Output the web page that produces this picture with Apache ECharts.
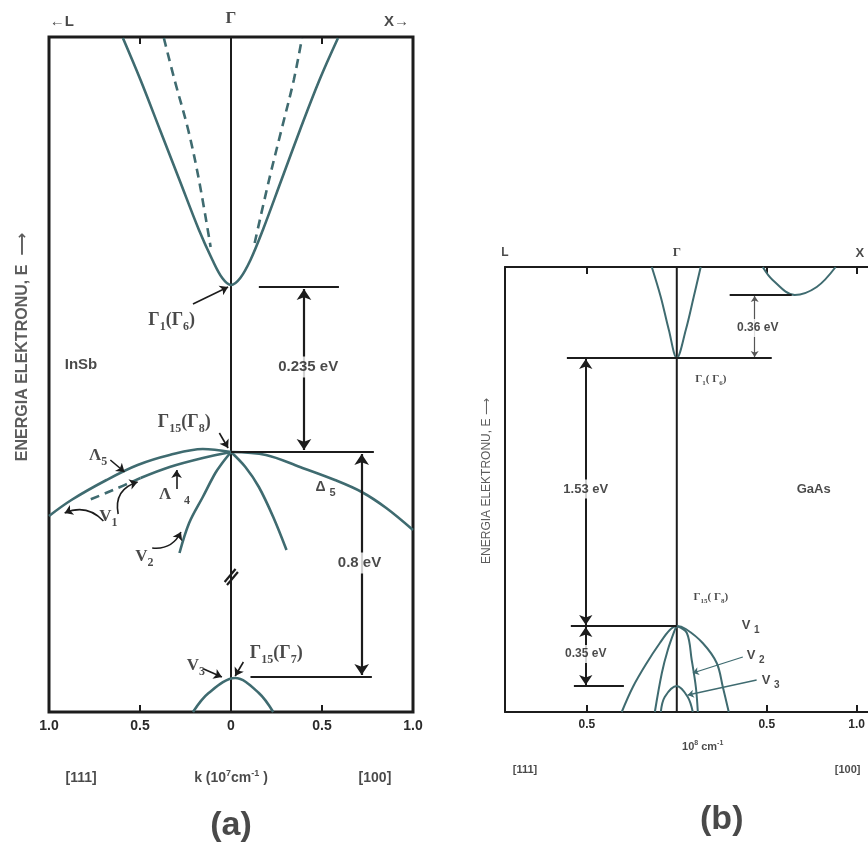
<!DOCTYPE html>
<html><head><meta charset="utf-8">
<script src="https://cdn.jsdelivr.net/npm/echarts@6/dist/echarts.min.js"></script>
<style>html,body{margin:0;padding:0;background:#fff}#c{width:868px;height:843px}</style>
</head><body><div id="c"></div><script>
// ---------- DATA (k in axis units, E in arbitrary drawing units) ----------
// Panel (a) InSb
const kTickLabelsA = [-1, -0.5, 0, 0.5, 1];
const kTicksA = [-0.5, 0.5];
const inSbCond = [[-0.594,134.8],[-0.497,126.4],[-0.390,116.4],[-0.283,106.4],[-0.176,96.4],[-0.102,90.4],[-0.048,86.8],[0,85.4],[0.051,86.8],[0.107,90.4],[0.175,96.4],[0.277,106.4],[0.379,116.4],[0.486,126.4],[0.588,134.8]];
const inSbCondDashL = [[-0.369,134.8],[-0.310,126.4],[-0.235,116.4],[-0.176,106.4],[-0.112,93.0]];
const inSbCondDashR = [[0.130,93.8],[0.209,106.4],[0.277,116.4],[0.345,126.4],[0.390,134.8]];
const inSbLambda5 = [[-1.0,39.2],[-0.877,42.4],[-0.684,46.4],[-0.513,49.4],[-0.337,51.4],[-0.155,52.6],[0,52]];
const inSbLambda4 = [[0,52],[-0.155,50.8],[-0.337,49],[-0.497,46.8]];
const inSbV1Dash = [[-0.497,46.8],[-0.647,44.4],[-0.78,42.4]];
const inSbV2L = [[-0.283,31.8],[-0.23,37.8],[-0.155,43],[-0.086,47.8],[-0.048,49.8],[0,52]];
const inSbV2R = [[0,52],[0.079,49],[0.153,45],[0.232,39],[0.305,32.4]];
const inSbDelta5 = [[0,52],[0.192,51.4],[0.379,49],[0.571,46.4],[0.718,44],[0.853,40.8],[1.0,36.4]];
const inSbV3 = [[-0.209,0],[-0.123,3.8],[0.023,6.8],[0.153,3.8],[0.232,0]];
// Panel (b) GaAs
const kTickLabelsB = [-0.5, 0.5, 1.0];
const kTicksB = [-0.5, 0.5, 1.0];
const gaAsCondGamma = [[-0.139,89],[-0.089,83],[-0.044,76.4],[0,70.8],[0.05,76.4],[0.094,83],[0.133,89]];
const gaAsCondSide = [[0.478,89],[0.533,86.4],[0.656,83.4],[0.778,85],[0.883,89]];
const gaAsV1 = [[-0.306,0],[-0.244,5],[-0.167,9.8],[-0.094,13.8],[-0.039,16.4],[0,17.2],[0.05,16.6],[0.144,13.8],[0.222,9.8],[0.256,5],[0.289,0]];
const gaAsV2L = [[-0.122,0],[-0.083,7.8],[-0.05,12.4],[-0.011,16.4],[0,17.2]];
const gaAsV2R = [[0,17.2],[0.056,15.8],[0.083,10.4],[0.106,5],[0.117,0]];
const gaAsV3 = [[-0.089,0],[-0.067,3],[0,5.2],[0.061,3],[0.089,0]];

// ---------- STYLE ----------
const CURVE = '#3f6b70', INK = '#1c1c1c';
const SANS = "'Liberation Sans', Arial, 'DejaVu Sans', sans-serif";
const SERIF = "'Liberation Serif', 'Times New Roman', 'DejaVu Serif', serif";

function xAxes(gridIndex, min, max, labels, ticks, fs, lineW) {
  const tick = {show:true, inside:true, length:7, customValues:ticks, lineStyle:{color:INK, width:2}};
  const line = lineW ? {show:true, onZero:false, lineStyle:{color:INK, width:lineW}} : {show:false};
  return [
    {type:'value', gridIndex, min, max, position:'bottom', axisLine:line, splitLine:{show:false},
     axisTick:tick,
     axisLabel:{show:true, customValues:labels, formatter:v => v === 0 ? '0' : Math.abs(v).toFixed(1),
       fontFamily:SANS, fontWeight:'bold', fontSize:fs, color:'#2a2a2a', margin:7}},
    {type:'value', gridIndex, min, max, position:'top', axisLine:line, splitLine:{show:false},
     axisTick:tick, axisLabel:{show:false}}
  ];
}
function curve(data, xi, yi, w, dashed) {
  return {type:'line', xAxisIndex:xi, yAxisIndex:yi, data, smooth:0.35, symbol:'none', silent:true, z:3,
    lineStyle:{color:CURVE, width:w, type: dashed ? [9,6] : 'solid'}};
}
function vline(xi, yi, top, w) {
  return {type:'line', xAxisIndex:xi, yAxisIndex:yi, data:[[0,0],[0,top]], symbol:'none', silent:true, z:2,
    lineStyle:{color:INK, width:w}};
}
function segs(items, xi, yi, sym, color, width, size) {
  return {type:'lines', coordinateSystem:'cartesian2d', xAxisIndex:xi, yAxisIndex:yi, silent:true, z:4,
    symbol:sym, symbolSize:size,
    lineStyle:{color, width, opacity:1},
    data: items.map(c => ({coords:[c[0], c[1]], lineStyle:{curveness: c[2] || 0}}))};
}
function texts(items, xi, yi) {
  return {type:'scatter', xAxisIndex:xi, yAxisIndex:yi, symbolSize:0, clip:false, silent:true, z:6,
    data: items.map(it => ({value:[it[0], it[1]],
      label: Object.assign({show:true, position:'inside', formatter: it[2], align:'center', verticalAlign:'middle'}, it[3])}))};
}
const box = {backgroundColor:'#fff', padding:[3,2]};
function sans(fs, extra) { return Object.assign({fontFamily:SANS, fontWeight:'bold', fontSize:fs, color:INK,
  rich:{s:{fontFamily:SANS, fontWeight:'bold', fontSize:Math.round(fs*0.75), color:INK, padding:[Math.round(fs*0.8),0,0,0]},
        sup:{fontFamily:SANS, fontWeight:'bold', fontSize:Math.round(fs*0.65), color:INK, padding:[0,0,Math.round(fs*0.6),0]}}}, extra || {}); }
function serif(fs, extra) { return Object.assign({fontFamily:SERIF, fontWeight:'bold', fontSize:fs, color:INK,
  rich:{s:{fontFamily:SERIF, fontWeight:'bold', fontSize:Math.round(fs*0.68), color:INK, padding:[Math.round(fs*0.7),0,0,0]}}}, extra || {}); }

// ---------- ANNOTATIONS ----------
const textsA = [
  [-0.326,78.4,'Γ{s|1}(Γ{s|6})', serif(18)],
  [-0.824,69.4,'InSb', sans(15)],
  [0.424,69,'0.235 eV', sans(15, box)],
  [-0.257,58,'Γ{s|15}(Γ{s|8})', serif(18)],
  [-0.73,51.2,'Λ{s|5}', serif(17)],
  [-0.31,43.4,'Λ   {s|4}', serif(17)],
  [-0.674,39,'V{s|1}', serif(17)],
  [-0.476,31,'V{s|2}', serif(17)],
  [0.52,45,'Δ {s|5}', sans(14)],
  [0.706,29.8,'0.8 eV', sans(15, box)],
  [0.249,11.8,'Γ{s|15}(Γ{s|7})', serif(18)],
  [-0.193,9.2,'V{s|3}', serif(17)],
  [-0.93,138,'←L', sans(15)],
  [0,138.6,'Γ', serif(17)],
  [0.91,138,'X→', sans(15)],
  [-0.824,-13.2,'[111]', sans(14)],
  [0,-13.2,'k (10{sup|7}cm{sup|-1} )', sans(14)],
  [0.791,-13.2,'[100]', sans(14)],
  [0,-22.8,'(a)', sans(34)],
  [-1.144,73,'ENERGIA ELEKTRONU, E  ⟶', sans(16, {rotate:90, color:'#333'})]
];
const textsB = [
  [0.189,66.6,'Γ{s|1}( Γ{s|6})', serif(11)],
  [0.45,76.8,'0.36 eV', sans(12, box)],
  [-0.506,44.6,'1.53 eV', sans(13, box)],
  [0.761,44.6,'GaAs', sans(13)],
  [0.189,23,'Γ{s|15}( Γ{s|8})', serif(11)],
  [0.411,17.4,'V {s|1}', sans(13)],
  [0.439,11.4,'V {s|2}', sans(13)],
  [0.522,6.4,'V {s|3}', sans(13)],
  [-0.506,11.6,'0.35 eV', sans(12, box)],
  [-0.956,91.8,'L', sans(12)],
  [0,91.8,'Γ', serif(13)],
  [1.017,91.8,'X', sans(13)],
  [0.144,-7,'10{sup|8} cm{sup|-1}', sans(11)],
  [-0.844,-11.6,'[111]', sans(11)],
  [0.95,-11.6,'[100]', sans(11)],
  [0.25,-21.6,'(b)', sans(34)],
  [-1.056,46.2,'ENERGIA ELEKTRONU, E ⟶', sans(12, {rotate:90, fontWeight:'normal', color:'#333'})]
];
// segments: [from, to, curveness]
const plainA = [[[0.153,85],[0.593,85]], [[0,52],[0.785,52]], [[0.107,7],[0.774,7]],
  [[-0.035,26],[0.025,28.6]], [[-0.022,25.4],[0.038,28]]];
const endArrowA = [[[-0.209,81.6],[-0.016,85]], [[-0.064,55.8],[-0.016,52.8]], [[-0.663,50.4],[-0.585,48]],
  [[-0.299,44.6],[-0.299,48.4]], [[-0.701,38.2],[-0.914,39.8],-0.35], [[-0.62,39.6],[-0.513,46],0.45],
  [[-0.433,32.8],[-0.275,36],-0.35], [[0.068,10],[0.023,7.2]], [[-0.15,8.6],[-0.05,7]]];
const bothArrowA = [[[0.401,84.6],[0.401,52.4]], [[0.718,51.6],[0.718,7.4]]];
const plainB = [[[0.294,83.4],[0.639,83.4]], [[-0.611,70.8],[0.528,70.8]], [[-0.589,17.2],[0,17.2]], [[-0.572,5.2],[-0.294,5.2]]];
const bothArrowB = [[[-0.506,70.6],[-0.506,17.4]], [[-0.506,17],[-0.506,5.4]]];
const bothArrowSmallB = [[[0.433,83.2],[0.433,71]]];
const pointerB = [[[0.367,11],[0.089,7.8]], [[0.444,6.4],[0.061,3.4]]];

const option = {
  animation:false,
  backgroundColor:'#fff',
  grid:[
    {left:49, top:37, width:364, height:675, show:true, borderColor:INK, borderWidth:3, backgroundColor:'transparent'},
    {left:505, top:267, right:0, height:445, show:false}
  ],
  xAxis:[].concat(xAxes(0,-1,1,kTickLabelsA,kTicksA,14,0), xAxes(1,-0.955,1.062,kTickLabelsB,kTicksB,12,2)),
  yAxis:[
    {type:'value', gridIndex:0, min:0, max:135, show:false},
    {type:'value', gridIndex:1, min:0, max:89, show:true, position:'left',
     axisLine:{show:true, onZero:false, lineStyle:{color:INK, width:2}},
     axisTick:{show:false}, axisLabel:{show:false}, splitLine:{show:false}}
  ],
  series:[
    vline(0,0,135,2), vline(2,1,89,2),
    curve(inSbCond,0,0,2.6), curve(inSbCondDashL,0,0,2.6,true), curve(inSbCondDashR,0,0,2.6,true),
    curve(inSbLambda5,0,0,2.6), curve(inSbLambda4,0,0,2.6), curve(inSbV1Dash,0,0,2.6,true),
    curve(inSbV2L,0,0,2.6), curve(inSbV2R,0,0,2.6), curve(inSbDelta5,0,0,2.6), curve(inSbV3,0,0,2.6),
    curve(gaAsCondGamma,2,1,2), curve(gaAsCondSide,2,1,2), curve(gaAsV1,2,1,2),
    curve(gaAsV2L,2,1,2), curve(gaAsV2R,2,1,2), curve(gaAsV3,2,1,2),
    segs(plainA,0,0,['none','none'],INK,2.2,0),
    segs(endArrowA,0,0,['none','arrow'],INK,1.6,8),
    segs(bothArrowA,0,0,['arrow','arrow'],INK,2.2,11),
    segs(plainB,2,1,['none','none'],INK,2,0),
    segs(bothArrowB,2,1,['arrow','arrow'],INK,2,10),
    segs(bothArrowSmallB,2,1,['arrow','arrow'],'#555',1.2,6),
    segs(pointerB,2,1,['none','arrow'],CURVE,1.3,6),
    texts(textsA,0,0), texts(textsB,2,1)
  ]
};
const chart = echarts.init(document.getElementById('c'), null, {renderer:'canvas'});
chart.setOption(option);
</script></body></html>
